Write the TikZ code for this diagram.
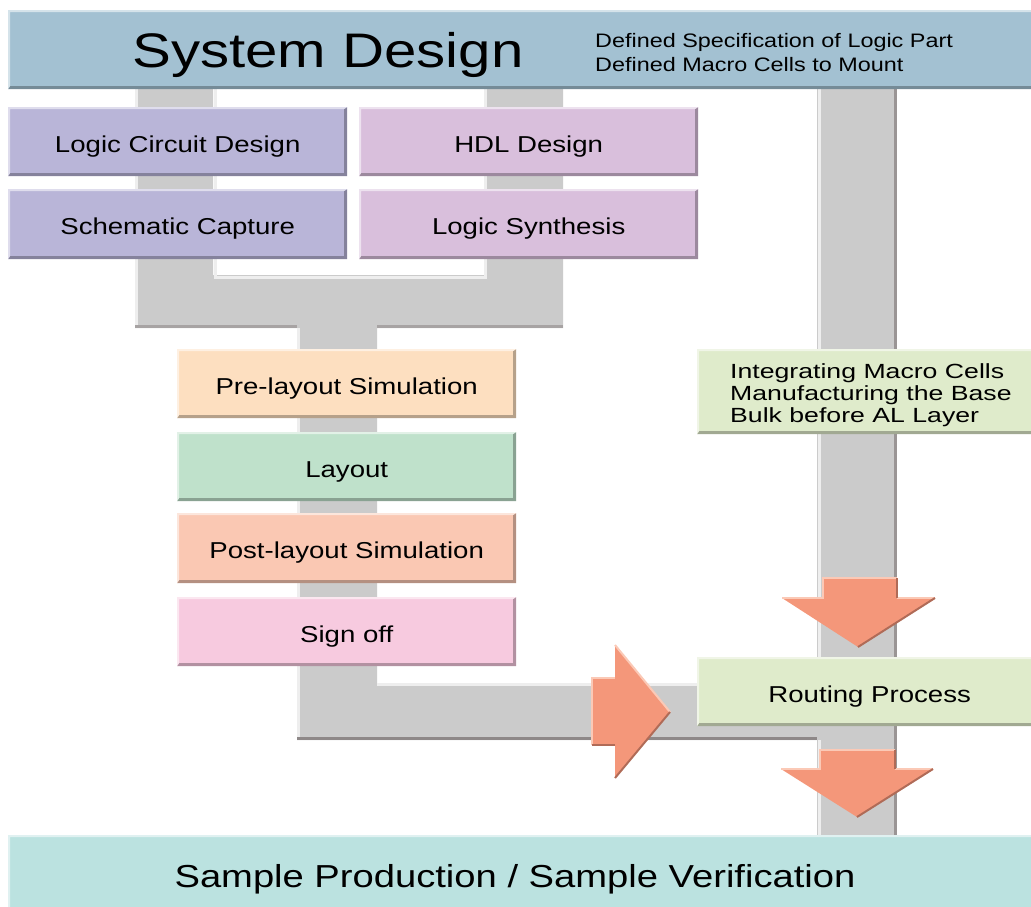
\documentclass[tikz,border=0pt]{standalone}
\usepackage{fontspec}
\setmainfont[FakeStretch=1.2]{Liberation Sans}
\newfontfamily\widefamily[FakeStretch=1.3]{Liberation Sans}

\definecolor{sysblue}{HTML}{A3C1D2}
\definecolor{tealbox}{HTML}{BBE2E0}
\definecolor{lavbox}{HTML}{B9B5D8}
\definecolor{mauvebox}{HTML}{D9BFDC}
\definecolor{peachbox}{HTML}{FDDFC0}
\definecolor{mintbox}{HTML}{BFE1CB}
\definecolor{salmonbox}{HTML}{FAC8B3}
\definecolor{pinkbox}{HTML}{F7CADF}
\definecolor{limebox}{HTML}{DFEBCB}
\definecolor{pipegray}{HTML}{CBCBCB}
\definecolor{pipelight}{HTML}{EEEEEE}
\definecolor{pipedark}{HTML}{8E8888}
\definecolor{arrowfill}{HTML}{F4977A}
\definecolor{arrowlight}{HTML}{FBC9B6}
\definecolor{arrowdark}{HTML}{B06B57}

\newcommand\boxfont{\fontsize{23}{26}\selectfont}
\newcommand\notefont{\fontsize{19.5}{23}\selectfont}
\newcommand\stepnotefont{\widefamily\fontsize{20.5}{22}\selectfont}

\tikzset{
  bx/.style={rectangle, inner sep=0pt, anchor=north west, fill=#1,
    font=\boxfont, text height=21pt, text depth=0pt,
    path picture={
      \path (path picture bounding box.south west) coordinate (q1)
            (path picture bounding box.north west) coordinate (q2)
            (path picture bounding box.north east) coordinate (q3)
            (path picture bounding box.south east) coordinate (q4);
      \fill[white, opacity=.55] (q1) -- (q2) -- (q3) -- ([shift={(-2pt,-2pt)}]q3)
            -- ([shift={(2pt,-2pt)}]q2) -- ([shift={(2pt,0pt)}]q1) -- cycle;
      \fill[#1!72!black] (q1) -- (q4) -- (q3) -- ([shift={(-3pt,-2pt)}]q3)
            -- ([shift={(-3pt,3pt)}]q4) -- ([shift={(2pt,3pt)}]q1) -- cycle;
    }},
  pipeedge/.style={line width=3pt},
  arrowedge/.style={line width=2pt, line join=miter},
  linetext/.style={anchor=base west, inner sep=0pt},
}

\begin{document}
\begin{tikzpicture}[x=1pt,y=-1pt]
\path[use as bounding box] (0,0) rectangle (1031,907);
\clip (0,0) rectangle (1031,907);

% flow pipes behind the boxes
\fill[pipegray] (135,89) -- (213,89) -- (213,275) -- (487,275) -- (487,89)
  -- (563,89) -- (563,328) -- (377,328) -- (377,683) -- (817,683)
  -- (817,740) -- (297,740) -- (297,328) -- (135,328) -- cycle;
\fill[pipegray] (817,89) rectangle (897,835);
\draw[pipelight, pipeedge] (136.5,89) -- (136.5,328);
\draw[pipelight, pipeedge] (298.5,328) -- (298.5,740);
\draw[pipelight, pipeedge] (215,89) -- (215,277) -- (485,277) -- (485,89);
\draw[pipelight, pipeedge] (377,684.5) -- (817,684.5);
\draw[pipelight, pipeedge] (819,89) -- (819,683);
\draw[pipelight, pipeedge] (819,740) -- (819,835);
\draw[pipedark!60!pipegray, pipeedge] (135,326.5) -- (297,326.5);
\draw[pipedark!60!pipegray, pipeedge] (563,326.5) -- (377,326.5);
\draw[pipedark, pipeedge] (297,738.5) -- (817,738.5);
\draw[pipedark!80!pipegray, pipeedge] (895.5,89) -- (895.5,835);

% stage boxes
\node[bx=sysblue, minimum width=1040, minimum height=79] (sys) at (8,10) {};
\node[anchor=base, inner sep=0pt, font=\fontsize{48.5}{50}\selectfont] (systitle) at (328,68) {System Design};
\node[linetext, font=\notefont] (spec1) at (595,48) {Defined Specification of Logic Part};
\node[linetext, font=\notefont] (spec2) at (595,71) {Defined Macro Cells to Mount};

\node[bx=lavbox, minimum width=339, minimum height=69] (lcd) at (8,107) {Logic Circuit Design};
\node[bx=lavbox, minimum width=339, minimum height=70] (sch) at (8,189) {Schematic Capture};
\node[bx=mauvebox, minimum width=339, minimum height=69] (hdl) at (359,107) {HDL Design};
\node[bx=mauvebox, minimum width=339, minimum height=70] (syn) at (359,189) {Logic Synthesis};

\node[bx=peachbox, minimum width=339, minimum height=69] (pre) at (177,349) {Pre-layout Simulation};
\node[bx=mintbox, minimum width=339, minimum height=69] (lay) at (177,432) {Layout};
\node[bx=salmonbox, minimum width=339, minimum height=70] (post) at (177,513) {Post-layout Simulation};
\node[bx=pinkbox, minimum width=339, minimum height=69] (sign) at (177,597) {Sign off};

\node[bx=limebox, minimum width=345, minimum height=85] (intg) at (697,349) {};
\node[linetext, font=\stepnotefont] (intg1) at (730,378) {Integrating Macro Cells};
\node[linetext, font=\stepnotefont] (intg2) at (730,400) {Manufacturing the Base};
\node[linetext, font=\stepnotefont] (intg3) at (730,422) {Bulk before AL Layer};

\node[bx=limebox, minimum width=345, minimum height=69] (route) at (697,657) {Routing Process};

\node[bx=tealbox, minimum width=1040, minimum height=80] (sample) at (8,835) {};
\node[anchor=base, inner sep=0pt, font=\fontsize{31.8}{34}\selectfont] (sampletext) at (515,887) {Sample Production / Sample Verification};

% block arrows
\fill[arrowfill] (823,578) -- (897,578) -- (897,598) -- (935,598) -- (858,647)
  -- (782,598) -- (823,598) -- cycle;
\draw[arrowlight, arrowedge] (782,598) -- (823,598) -- (823,578) -- (897,578);
\draw[arrowlight, arrowedge] (897,598) -- (935,598);
\draw[arrowdark, arrowedge] (897,578) -- (897,598);
\draw[arrowdark, arrowedge] (935,598) -- (858,647);

\fill[arrowfill] (820,750) -- (895,750) -- (895,769) -- (933,769) -- (857,817)
  -- (781,769) -- (820,769) -- cycle;
\draw[arrowlight, arrowedge] (781,769) -- (820,769) -- (820,750) -- (895,750);
\draw[arrowlight, arrowedge] (895,769) -- (933,769);
\draw[arrowdark, arrowedge] (895,750) -- (895,769);
\draw[arrowdark, arrowedge] (933,769) -- (857,817);

\fill[arrowfill] (592,678) -- (615,678) -- (615,645) -- (670,712) -- (615,778)
  -- (615,745) -- (592,745) -- cycle;
\draw[arrowlight, arrowedge] (592,745) -- (592,678) -- (615,678);
\draw[arrowlight, arrowedge] (615,645) -- (670,712);
\draw[arrowdark, arrowedge] (670,712) -- (615,778);
\draw[arrowdark, arrowedge] (615,745) -- (592,745);
\end{tikzpicture}
\end{document}
